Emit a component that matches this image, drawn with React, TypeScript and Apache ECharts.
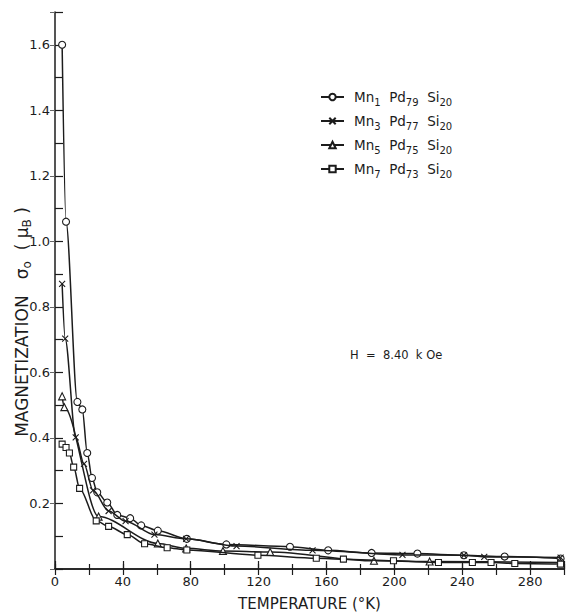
import React, { useEffect, useRef } from "react";
import * as echarts from "echarts";

// [temperature (K), magnetization (μB)]
const mn1Data: [number, number][] = [
  [4.2, 1.6], [6.5, 1.06], [13.2, 0.51], [16.1, 0.487], [19, 0.354], [21.8, 0.278],
  [24.9, 0.234], [30.8, 0.203], [36.7, 0.165], [44.3, 0.155], [50.8, 0.133],
  [60.6, 0.117], [77.7, 0.092], [101, 0.075], [138.5, 0.068], [161, 0.057],
  [186.6, 0.049], [213.6, 0.047], [241, 0.042], [265, 0.038], [298, 0.032],
];
const mn3Data: [number, number][] = [
  [4.2, 0.87], [6.0, 0.703], [12.2, 0.402], [17.1, 0.321], [22.4, 0.24],
  [31.6, 0.177], [41.6, 0.146], [58.6, 0.105], [77.3, 0.092], [107, 0.07],
  [151.8, 0.057], [204.8, 0.043], [241, 0.042], [253, 0.037], [298, 0.035],
];
const mn5Data: [number, number][] = [
  [4.2, 0.527], [5.5, 0.494], [25.7, 0.16], [60.6, 0.078], [77.3, 0.063],
  [99, 0.055], [126.8, 0.052], [188, 0.025], [220.8, 0.023], [298, 0.02],
];
const mn7Data: [number, number][] = [
  [4.2, 0.381], [6.5, 0.371], [8.5, 0.354], [11, 0.311], [14.5, 0.246],
  [24.3, 0.147], [31.6, 0.13], [42.6, 0.105], [52.8, 0.077], [66.1, 0.065],
  [77.7, 0.058], [119.6, 0.042], [154, 0.033], [170, 0.03], [199.5, 0.025],
  [226, 0.02], [246, 0.02], [257, 0.02], [271, 0.017], [298, 0.015],
];

const compositions = [
  { mn: "1", pd: "79", si: "20" },
  { mn: "3", pd: "77", si: "20" },
  { mn: "5", pd: "75", si: "20" },
  { mn: "7", pd: "73", si: "20" },
];
const seriesData = [mn1Data, mn3Data, mn5Data, mn7Data];
const symbols = [
  "circle",
  "path://M0,0L10,10M10,0L0,10",
  "triangle",
  "rect",
];
const symbolSizes = [7, 6, 7, 6];

const xLabelValues = [0, 40, 80, 120, 160, 200, 240, 280];
const yLabelValues = [0.2, 0.4, 0.6, 0.8, 1.0, 1.2, 1.4, 1.6];

const xTitle = "TEMPERATURE (°K)";
const fieldNote = "H  =  8.40  k Oe";

const FONT = "DejaVu Sans";
const INK = "#1c1c1c";

export default function App() {
  const ref = useRef<HTMLDivElement>(null);
  useEffect(() => {
    if (!ref.current) return;
    const chart = echarts.init(ref.current, undefined, { renderer: "svg" });
    const names = compositions.map((c) => `Mn${c.mn}Pd${c.pd}Si${c.si}`);
    const rich = {
      n: { fontSize: 13.5, fontFamily: FONT, color: INK, lineHeight: 20, verticalAlign: "middle" },
      s: { fontSize: 10, fontFamily: FONT, color: INK, lineHeight: 10, verticalAlign: "bottom" },
    };
    const rangeX = { type: "value", min: 0, max: 300 };
    chart.setOption({
      animation: false,
      backgroundColor: "#fff",
      grid: { left: 55, right: 2, top: 12, bottom: 36, containLabel: false },
      legend: {
        orient: "vertical",
        left: 315,
        top: 85,
        itemWidth: 23,
        itemHeight: 8,
        itemGap: 7,
        data: names,
        formatter: (name: string) => {
          const c = compositions[names.indexOf(name)];
          return `{n|Mn}{s|${c.mn}}{n|  Pd}{s|${c.pd}}{n|  Si}{s|${c.si}}`;
        },
        textStyle: { rich, color: INK, padding: [0, 0, 0, 5] },
      },
      xAxis: [
        {
          ...rangeX,
          interval: 40,
          axisLine: { lineStyle: { color: INK, width: 1.5 } },
          axisTick: { inside: true, length: 8, lineStyle: { color: INK, width: 1.2 } },
          splitLine: { show: false },
          axisLabel: {
            color: INK,
            fontFamily: FONT,
            fontSize: 13,
            margin: 6,
            formatter: (v: number) => (xLabelValues.includes(v) ? String(v) : ""),
          },
          name: xTitle,
          nameLocation: "middle",
          nameGap: 27,
          nameTextStyle: { color: INK, fontFamily: FONT, fontSize: 15 },
        },
        {
          ...rangeX,
          position: "top",
          interval: 20,
          axisLine: { lineStyle: { color: INK, width: 1.5 } },
          axisTick: { inside: true, length: 6, lineStyle: { color: INK, width: 1.2 } },
          axisLabel: { show: false },
          splitLine: { show: false },
        },
        {
          ...rangeX,
          position: "bottom",
          offset: 0,
          interval: 20,
          axisLine: { show: false },
          axisTick: { inside: true, length: 5, lineStyle: { color: INK, width: 1.2 } },
          axisLabel: { show: false },
          splitLine: { show: false },
        },
      ],
      yAxis: [
        {
          type: "value",
          min: 0,
          max: 1.7,
          interval: 0.1,
          axisLine: { show: true, lineStyle: { color: INK, width: 1.5 } },
          axisTick: { inside: true, length: 8, lineStyle: { color: INK, width: 1.2 } },
          splitLine: { show: false },
          axisLabel: {
            color: INK,
            fontFamily: FONT,
            fontSize: 13,
            margin: 5,
            formatter: (v: number) => {
              const hit = yLabelValues.find((t) => Math.abs(t - v) < 1e-6);
              return hit !== undefined ? hit.toFixed(1) : "";
            },
          },
        },
        {
          type: "value",
          position: "right",
          min: 0,
          max: 1.7,
          interval: 0.2,
          axisLine: { show: false },
          axisTick: { inside: true, length: 5, lineStyle: { color: "#666", width: 1 } },
          axisLabel: { show: false },
          splitLine: { show: false },
        },
      ],
      series: seriesData.map((d, i) => ({
        name: names[i],
        type: "line",
        data: d,
        smooth: 0.3,
        smoothMonotone: "x",
        symbol: symbols[i],
        symbolSize: symbolSizes[i],
        showAllSymbol: true,
        lineStyle: { color: INK, width: 1.5 },
        itemStyle: { color: "#fff", borderColor: INK, borderWidth: 1.1 },
        z: 2 + i,
      })),
      graphic: [
        {
          type: "text",
          x: 22,
          y: 322,
          rotation: Math.PI / 2,
          style: {
            text: "{n|MAGNETIZATION   σ}{s|o}{n|  ( μ}{s|B}{n| )}",
            rich: {
              n: { fontSize: 17, fontFamily: FONT, fill: INK, lineHeight: 22, verticalAlign: "middle" },
              s: { fontSize: 12, fontFamily: FONT, fill: INK, lineHeight: 11, verticalAlign: "bottom" },
            },
            align: "center",
            verticalAlign: "middle",
          },
        },
        {
          type: "text",
          x: 350,
          y: 355,
          style: {
            text: fieldNote,
            fontSize: 11.5,
            fontFamily: FONT,
            fill: INK,
            verticalAlign: "middle",
          },
        },
      ],
    });
    return () => chart.dispose();
  }, []);
  return (
    <div
      ref={ref}
      style={{ position: "absolute", left: 0, top: 0, width: 567, height: 616 }}
    />
  );
}
